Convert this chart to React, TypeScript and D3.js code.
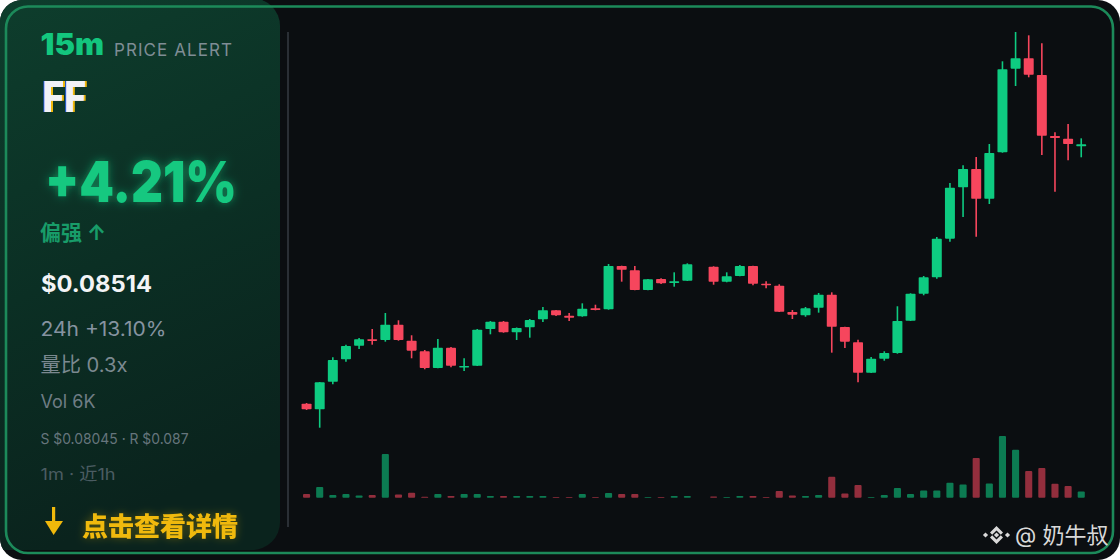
import React from "react";
import * as d3 from "d3";

// ---- data (1m candles, last ~1h) ----
const slots: number[] = d3.range(60);
const opens: (number | null)[] = [0.080847,0.080754,0.081211,0.081582,0.081807,0.081913,0.081902,0.082155,0.08189,0.081715,0.081438,0.081774,0.08145,0.081476,0.082084,0.082205,0.082029,0.082112,0.082244,0.082393,0.082304,0.082294,0.082426,0.08241,0.083127,0.083055,0.082729,0.082911,0.082845,0.082883,null,0.083115,0.082867,0.082961,0.083127,0.082834,0.0828,0.082365,0.082311,0.082436,0.082652,0.082117,0.081864,0.08136,0.081592,0.081687,0.082221,0.082668,0.08294,0.083579,0.084429,0.084732,0.084241,0.085009,0.086393,0.086565,0.086288,0.085279,0.085234,0.085108];
const highs: (number | null)[] = [0.080859,0.081206,0.081615,0.081824,0.081935,0.082084,0.082349,0.082228,0.08198,0.081736,0.081918,0.081786,0.081599,0.082084,0.082216,0.082216,0.082109,0.082249,0.082448,0.082398,0.082349,0.082509,0.082486,0.08316,0.083132,0.083127,0.082911,0.082923,0.083022,0.083171,null,0.083122,0.083022,0.083143,0.083132,0.082873,0.082824,0.082398,0.082448,0.08268,0.082691,0.082122,0.081907,0.08162,0.081715,0.08246,0.082675,0.082961,0.083607,0.084501,0.084794,0.084931,0.085146,0.086515,0.087,0.086945,0.086813,0.08534,0.085477,0.08524];
const lows: (number | null)[] = [0.080743,0.08045,0.081168,0.081543,0.081753,0.081824,0.081874,0.08189,0.081599,0.081417,0.081433,0.08145,0.081389,0.081471,0.081996,0.082022,0.081902,0.08194,0.0822,0.082299,0.082216,0.082287,0.082393,0.082403,0.082867,0.082724,0.082724,0.082829,0.082784,0.082878,null,0.082817,0.082857,0.082956,0.082807,0.082757,0.082365,0.082249,0.082287,0.082354,0.081692,0.081769,0.081201,0.081355,0.081559,0.081675,0.082216,0.082642,0.082916,0.083529,0.083938,0.083612,0.084153,0.085002,0.086106,0.08625,0.084964,0.084356,0.084876,0.084926];
const closes: (number | null)[] = [0.080754,0.081201,0.081571,0.081802,0.081913,0.08189,0.082155,0.081902,0.081725,0.081438,0.081774,0.081476,0.081471,0.082072,0.082205,0.082029,0.0821,0.082233,0.082393,0.082311,0.082271,0.08242,0.082398,0.083127,0.083065,0.082729,0.082906,0.08284,0.082873,0.083155,null,0.082867,0.082956,0.083127,0.082834,0.082807,0.08237,0.082321,0.082426,0.082652,0.082122,0.081874,0.08136,0.081592,0.081687,0.082216,0.082668,0.08294,0.083579,0.084423,0.084732,0.084241,0.084997,0.086383,0.086565,0.086293,0.085283,0.085245,0.085146,0.08514];
const volumes: (number | null)[] = [370,1070,270,370,230,270,4370,330,500,100,370,170,370,370,170,170,170,170,170,70,70,370,70,470,370,370,70,70,170,170,null,130,70,170,170,70,670,230,170,270,2100,430,1270,70,270,970,370,730,730,1500,1330,3970,1430,6170,4800,2670,2970,1400,1170,630];

const symbol = "FF";
const intervalLabel = "15m";
const alertLabel = "PRICE ALERT";
const changeLabel = "+4.21%";
const trendLabel = "偏强 ↑";
const priceLabel = "$0.08514";
const statLines = ["24h +13.10%", "量比 0.3x", "Vol 6K", "S $0.08045 · R $0.087", "1m · 近1h"];
const ctaLabel = "点击查看详情";
const watermark = "@ 奶牛叔";

const GREEN = "#0ecb81";
const RED = "#f6465d";
const FONT = "Inter, 'Noto Sans CJK SC', 'Noto Sans', sans-serif";

export default function App() {
  const W = 1120, H = 560;
  const x = d3.scaleBand<number>().domain(slots).range([300, 1087.8]);
  const step = x.step();
  const bw = step * 0.76;
  const lo = d3.min(lows.filter((v) => v != null) as number[]) as number;
  const hi = d3.max(highs.filter((v) => v != null) as number[]) as number;
  const y = d3.scaleLinear().domain([lo, hi]).range([427.7, 32]);
  const vmax = d3.max(volumes.filter((v) => v != null) as number[]) as number;
  const yv = d3.scaleLinear().domain([0, vmax]).range([497.7, 436]);
  const vw = step * 0.54;

  const statStyles = [
    { y: 336, size: 20, fill: "#8693a0", len: 126 },
    { y: 372, size: 20, fill: "#7b8990", len: 87 },
    { y: 408, size: 18, fill: "#6f7d85", len: 55 },
    { y: 444, size: 14.5, fill: "#66757c", len: 148 },
    { y: 480, size: 16.5, fill: "#4b5c62", len: 75 },
  ];

  return (
    <div style={{ position: "fixed", left: 0, top: 0, width: W, height: H, background: "#fff" }}>
      <svg width={W} height={H} viewBox={`0 0 ${W} ${H}`} style={{ display: "block" }}>
        <defs>
          <clipPath id="card">
            <rect x={0} y={0} width={W} height={H} rx={22} />
          </clipPath>
          <linearGradient id="panelGrad" x1="0" y1="0" x2="0.25" y2="1">
            <stop offset="0" stopColor="#0e3e2d" />
            <stop offset="0.55" stopColor="#0b2f24" />
            <stop offset="1" stopColor="#0a231d" />
          </linearGradient>
          <filter id="glowG" x="-20%" y="-40%" width="140%" height="180%">
            <feGaussianBlur in="SourceGraphic" stdDeviation="5" result="b" />
            <feColorMatrix in="b" type="matrix" values="1 0 0 0 0  0 1 0 0 0  0 0 1 0 0  0 0 0 0.55 0" result="b2" />
            <feMerge>
              <feMergeNode in="b2" />
              <feMergeNode in="SourceGraphic" />
            </feMerge>
          </filter>
          <filter id="glowY" x="-20%" y="-40%" width="140%" height="180%">
            <feGaussianBlur in="SourceGraphic" stdDeviation="4" result="b" />
            <feColorMatrix in="b" type="matrix" values="1 0 0 0 0  0 1 0 0 0  0 0 1 0 0  0 0 0 0.35 0" result="b2" />
            <feMerge>
              <feMergeNode in="b2" />
              <feMergeNode in="SourceGraphic" />
            </feMerge>
          </filter>
          <filter id="chroma" x="-10%" y="-10%" width="120%" height="120%">
            <feFlood floodColor="#2f6bff" result="blue" />
            <feComposite in="blue" in2="SourceAlpha" operator="in" result="blueA" />
            <feOffset in="blueA" dx={-1.5} dy={0} result="blueO" />
            <feFlood floodColor="#f0b90b" result="yel" />
            <feComposite in="yel" in2="SourceAlpha" operator="in" result="yelA" />
            <feOffset in="yelA" dx={1.5} dy={0} result="yelO" />
            <feMerge>
              <feMergeNode in="blueO" />
              <feMergeNode in="yelO" />
              <feMergeNode in="SourceGraphic" />
            </feMerge>
          </filter>
        </defs>
        <g clipPath="url(#card)">
          <rect x={0} y={0} width={W} height={H} fill="#0b0e11" />
          <rect x={-30} y={-2} width={310} height={552} rx={28} fill="url(#panelGrad)" />
          <rect x={6} y={6.5} width={1107} height={546.5} rx={22} fill="none" stroke="#1c8a5a" strokeWidth={2.6} />
        </g>

        {/* divider */}
        <line x1={288} x2={288} y1={32} y2={527} stroke="#2a2f35" strokeWidth={2} />

        {/* volume bars */}
        <g>
          {slots.map((i) => {
            const v = volumes[i];
            if (v == null) return null;
            const up = (closes[i] as number) >= (opens[i] as number);
            const cx = (x(i) as number) + step / 2;
            const top = yv(v);
            return (
              <rect key={"v" + i} x={cx - vw / 2} y={top} width={vw} height={Math.max(0.8, yv(0) - top)} rx={1}
                fill={up ? GREEN : RED} fillOpacity={0.58} />
            );
          })}
        </g>

        {/* candles */}
        <g>
          {slots.map((i) => {
            const o = opens[i], c = closes[i], h = highs[i], l = lows[i];
            if (o == null || c == null || h == null || l == null) return null;
            const up = c >= o;
            const col = up ? GREEN : RED;
            const cx = (x(i) as number) + step / 2;
            const top = y(Math.max(o, c));
            const bot = y(Math.min(o, c));
            const bh = Math.max(1.6, bot - top);
            return (
              <g key={"c" + i}>
                <line x1={cx} x2={cx} y1={y(h)} y2={y(l)} stroke={col} strokeWidth={1.6} />
                <rect x={cx - bw / 2} y={top} width={bw} height={bh} fill={col} rx={0.8} />
              </g>
            );
          })}
        </g>

        {/* left panel text */}
        <g fontFamily={FONT}>
          <text x={40.5} y={55} fontSize={30} fontWeight={900} fill="#13c67e" textLength={63.5} lengthAdjust="spacingAndGlyphs">{intervalLabel}</text>
          <text x={114} y={56} fontSize={17} fill="#7f8d95" textLength={118} lengthAdjust="spacing">{alertLabel}</text>
          <text x={42.5} y={112} fontSize={42} fontWeight={800} fill="#f1f2f7" filter="url(#chroma)" textLength={43.5} lengthAdjust="spacingAndGlyphs">{symbol}</text>
          <text x={45} y={202} fontSize={57} fontWeight={900} fill="#12c880" filter="url(#glowG)" textLength={192} lengthAdjust="spacingAndGlyphs">{changeLabel}</text>
          <text x={40} y={240} fontSize={21} fontWeight={700} fill="#189c69">{trendLabel}</text>
          <text x={41} y={292} fontSize={22.5} fontWeight={700} fill="#f3f4f6" textLength={111} lengthAdjust="spacingAndGlyphs">{priceLabel}</text>
          {statLines.map((s, k) => (
            <text key={s} x={40.5} y={statStyles[k].y} fontSize={statStyles[k].size} fill={statStyles[k].fill}
              textLength={statStyles[k].len} lengthAdjust="spacingAndGlyphs">{s}</text>
          ))}
          <g fill="#f0b90b">
            <rect x={52} y={507} width={3.2} height={16} />
            <path d="M45,521 L63,521 L53.6,535 Z" />
          </g>
          <text x={82} y={536} fontSize={26} fontWeight={900} fill="#f0b90b" filter="url(#glowY)">{ctaLabel}</text>
        </g>

        {/* watermark */}
        <g fill="#d9d9d9">
          <path d="M996.5,526 L1003,532.5 L1000.8,534.7 L996.5,530.4 L992.2,534.7 L990,532.5 Z" />
          <path d="M996.5,544 L1003,537.5 L1000.8,535.3 L996.5,539.6 L992.2,535.3 L990,537.5 Z" />
          <path d="M996.5,532.4 L999.1,535 L996.5,537.6 L993.9,535 Z" />
          <path d="M985.5,532.4 L988.1,535 L985.5,537.6 L982.9,535 Z" />
          <path d="M1007.5,532.4 L1010.1,535 L1007.5,537.6 L1004.9,535 Z" />
          <text x={1015} y={543} fontSize={22} fontFamily={FONT}>{watermark}</text>
        </g>
      </svg>
    </div>
  );
}
